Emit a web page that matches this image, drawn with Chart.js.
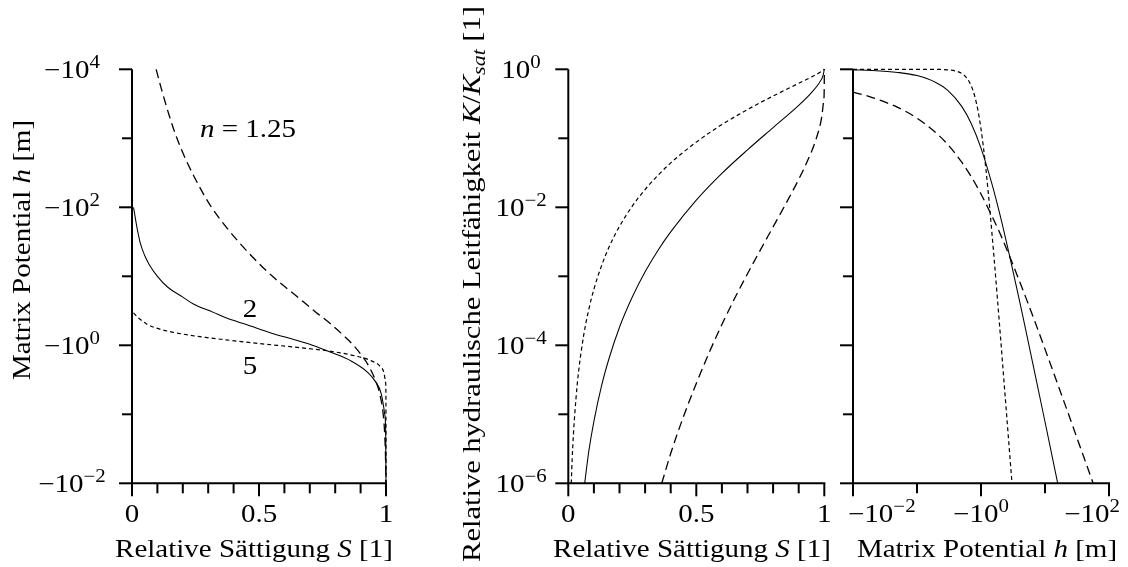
<!DOCTYPE html>
<html><head><meta charset="utf-8">
<script src="https://cdn.jsdelivr.net/npm/chart.js@4.4.1/dist/chart.umd.min.js"></script>
<style>
html,body{margin:0;padding:0;background:#fff;}
#wrap{position:relative;width:1128px;height:567px;overflow:hidden;background:#fff;}
canvas{position:absolute;left:0;top:0;}
</style></head><body>
<div id="wrap">
<canvas id="c1" width="1128" height="567"></canvas>
<canvas id="c2" width="1128" height="567"></canvas>
<canvas id="c3" width="1128" height="567"></canvas>
</div>
<script>
// ---------- data ----------
// Panel 1: relative saturation S vs |matrix potential h| [m]
const retentionS_n125 = [0.095,0.117,0.149,0.177,0.211,0.265,0.313,0.374,0.469,0.553,0.652,0.725,0.785,0.823,0.872,0.906,0.932,0.960,0.975,0.989,0.995,0.9985,0.9995];
const retentionH_n125 = [10000,5000,2000,1000,500,200,100,50,20,10,5,3,2,1.5,1,0.7,0.5,0.3,0.2,0.1,0.05,0.02,0.01];
const retentionS_n2 = [0.006,0.02,0.033,0.05,0.067,0.10,0.14,0.20,0.24,0.32,0.37,0.45,0.55,0.64,0.71,0.78,0.86,0.93,0.958,0.981,0.995,0.999,1.0];
const retentionH_n2 = [100,50,30,20,15,10,7,5,4,3,2.5,2,1.5,1.2,1,0.8,0.6,0.4,0.3,0.2,0.1,0.05,0.01];
const retentionS_n5 = [0.006,0.025,0.061,0.091,0.142,0.227,0.29,0.37,0.46,0.57,0.69,0.80,0.88,0.94,0.976,0.992,0.998,0.9997,1.0];
const retentionH_n5 = [2.95,2.5,2,1.8,1.6,1.4,1.3,1.2,1.1,1,0.9,0.8,0.7,0.6,0.5,0.4,0.3,0.2,0.01];

// Panel 2: relative conductivity K/Ksat vs S
const conductS_n125 = [0.365,0.40,0.45,0.50,0.55,0.60,0.65,0.70,0.75,0.80,0.85,0.90,0.94,0.97,0.99,0.998,0.9999,1.0];
const conductK_n125 = [1.0e-6,2.7e-6,9.3e-6,2.8e-5,7.8e-5,2.0e-4,4.8e-4,1.09e-3,2.4e-3,5.2e-3,0.0113,0.0254,0.0525,0.103,0.204,0.36,0.61,1];
const conductS_n2 = [0.064,0.08,0.10,0.13,0.16,0.20,0.25,0.30,0.35,0.40,0.50,0.60,0.70,0.80,0.90,0.95,0.98,0.995,1.0];
const conductK_n2 = [1.0e-6,2.9e-6,7.9e-6,2.6e-5,6.6e-5,1.83e-4,5.0e-4,1.16e-3,2.37e-3,4.4e-3,0.0127,0.031,0.068,0.143,0.30,0.46,0.635,0.81,1];
const conductS_n5 = [0.0116,0.015,0.02,0.03,0.04,0.06,0.08,0.10,0.13,0.16,0.20,0.25,0.30,0.35,0.40,0.50,0.60,0.70,0.80,0.90,0.95,0.99,1.0];
const conductK_n5 = [1.0e-6,2.2e-6,5.1e-6,1.7e-5,4.1e-5,1.39e-4,3.3e-4,6.5e-4,1.43e-3,2.7e-3,5.3e-3,0.0104,0.0181,0.029,0.044,0.088,0.158,0.261,0.41,0.626,0.775,0.936,1];

// Panel 3: relative conductivity K/Ksat vs |h| [m]
const potentialH_n125 = [0.01,0.02,0.05,0.1,0.2,0.3,0.5,0.7,1,1.5,2,3,5,7,10,20,30,40,56.5];
const potentialK_n125 = [0.468,0.390,0.280,0.196,0.119,0.082,0.045,0.028,0.0156,0.0073,0.0041,0.00166,4.95e-4,2.17e-4,8.8e-5,1.49e-5,5.2e-6,2.46e-6,1.0e-6];
const potentialH_n2 = [0.01,0.02,0.05,0.1,0.2,0.3,0.5,0.7,1,1.5,2,3,4,5,7,10,13,15.8];
const potentialK_n2 = [0.98,0.96,0.90,0.81,0.64,0.50,0.29,0.165,0.072,0.021,0.0075,0.00148,4.4e-4,1.67e-4,3.8e-5,7.8e-6,2.4e-6,1.0e-6];
const potentialH_n5 = [0.01,0.2,0.3,0.4,0.5,0.6,0.7,0.8,0.9,1.0,1.1,1.2,1.3,1.4,1.5,1.6,1.8,2.0,2.3,2.6,3.05];
const potentialK_n5 = [1.0,0.997,0.983,0.946,0.871,0.748,0.583,0.405,0.249,0.137,0.070,0.034,0.0162,0.0077,0.0037,0.00185,4.9e-4,1.46e-4,2.8e-5,6.6e-6,1.0e-6];

// tick values and labels
const satMajorTicks = [0, 0.5, 1];
const satMinorTicks = [0.1,0.2,0.3,0.4,0.6,0.7,0.8,0.9];
const satTickLabels = ["0", "0.5", "1"];
const headMajorTicks = [0.01, 1, 100, 10000];
const headMinorTicks = [0.1, 10, 1000];
const headTickExponents = ["\u22122", "0", "2", "4"];
const condMajorTicks = [1e-6, 1e-4, 1e-2, 1];
const condMinorTicks = [1e-5, 1e-3, 1e-1];
const condTickExponents = ["\u22126", "\u22124", "\u22122", "0"];
const headXMajorTicks = [0.01, 1, 100];
const headXMinorTicks = [0.1, 10];
const headXTickExponents = ["\u22122", "0", "2"];
const curveLabels = ["1.25", "2", "5"];

// ---------- helpers ----------
const SERIF = '"Liberation Serif","Times New Roman",serif';
const F = (sz, it) => (it ? 'italic ' : '') + sz + 'px ' + SERIF;
const FS = 25, FSUP = 18, SX = 1.16;

function pts(xs, ys) { return xs.map((v, i) => ({x: v, y: ys[i]})); }
function styleFor(n) {
  if (n === 0) return {borderDash: [9, 5], borderWidth: 1.3};
  if (n === 1) return {borderDash: [], borderWidth: 1.05};
  return {borderDash: [4, 3], borderWidth: 1.2};
}
function ds(data, n) {
  return Object.assign({data, borderColor: '#000', backgroundColor: '#000', pointRadius: 0,
    showLine: true, fill: false, cubicInterpolationMode: 'monotone', clip: false}, styleFor(n));
}
function drawRuns(ctx, runs, x, y, align, sxOverride) {
  const sxv = sxOverride || SX;
  let total = 0;
  runs.forEach(r => { ctx.font = r.f; r.w = ctx.measureText(r.t).width; total += r.w; });
  const tw = total * sxv;
  let sx = align === 'center' ? x - tw / 2 : (align === 'right' ? x - tw : x);
  ctx.save();
  ctx.translate(sx, y); ctx.scale(sxv, 1);
  ctx.textAlign = 'left'; ctx.textBaseline = 'alphabetic';
  let cx = 0;
  runs.forEach(r => { ctx.font = r.f; ctx.fillText(r.t, cx, (r.dy || 0)); cx += r.w; });
  ctx.restore();
}
function powRuns(prefix, exp) {
  return [{t: prefix + '10', f: F(FS)}, {t: exp, f: F(FSUP), dy: -10}];
}
function line(ctx, x1, y1, x2, y2) { ctx.beginPath(); ctx.moveTo(x1, y1); ctx.lineTo(x2, y2); ctx.stroke(); }

function drawAxes(chart, spec) {
  const ctx = chart.ctx, a = chart.chartArea, xs = chart.scales.x, ys = chart.scales.y;
  ctx.save();
  ctx.strokeStyle = '#000'; ctx.fillStyle = '#000'; ctx.lineWidth = 2;
  line(ctx, a.left, a.top, a.left, a.bottom + 1);
  line(ctx, a.left - 1, a.bottom, a.right + 1, a.bottom);
  spec.yMajor.forEach(v => { const p = ys.getPixelForValue(v); line(ctx, a.left - 13, p, a.left, p); });
  spec.yMinor.forEach(v => { const p = ys.getPixelForValue(v); line(ctx, a.left - 10, p, a.left, p); });
  spec.xMajor.forEach(v => { const p = xs.getPixelForValue(v); line(ctx, p, a.bottom, p, a.bottom + 13); });
  spec.xMinor.forEach(v => { const p = xs.getPixelForValue(v); line(ctx, p, a.bottom, p, a.bottom + 10); });
  if (spec.yLabels) spec.yMajor.forEach((v, i) => {
    const p = ys.getPixelForValue(v);
    drawRuns(ctx, spec.yLabels(i), spec.yLabelX, p + 9, 'center');
  });
  spec.xMajor.forEach((v, i) => {
    const p = xs.getPixelForValue(v);
    const al = spec.xAlign ? spec.xAlign[i] : 'center';
    const off = spec.xOff ? spec.xOff[i] : 0;
    drawRuns(ctx, spec.xLabels(i), p + off, 522, al);
  });
  drawRuns(ctx, spec.xTitle, spec.xTitleX, 557, 'center');
  if (spec.yTitle) {
    ctx.save(); ctx.translate(spec.yTitleX, spec.yTitleY); ctx.rotate(-Math.PI / 2);
    drawRuns(ctx, spec.yTitle, 0, 0, 'center', spec.yTitleSX); ctx.restore();
  }
  if (spec.extra) spec.extra(ctx);
  ctx.restore();
}

function makeChart(id, datasets, pad, xScale, yScale, spec) {
  return new Chart(document.getElementById(id), {
    type: 'scatter',
    data: {datasets},
    options: {
      responsive: false, animation: false, devicePixelRatio: 1,
      layout: {padding: pad},
      plugins: {legend: {display: false}, tooltip: {enabled: false}, title: {display: false}},
      scales: {x: Object.assign({display: false}, xScale), y: Object.assign({display: false}, yScale)}
    },
    plugins: [{id: 'axes' + id, afterDatasetsDraw: c => drawAxes(c, spec)}]
  });
}

const satTitle = [{t: 'Relative S\u00e4ttigung ', f: F(FS)}, {t: 'S', f: F(FS, true)}, {t: ' [1]', f: F(FS)}];
const headTitle = [{t: 'Matrix Potential ', f: F(FS)}, {t: 'h', f: F(FS, true)}, {t: ' [m]', f: F(FS)}];
const condTitle = [{t: 'Relative hydraulische Leitf\u00e4higkeit ', f: F(FS)}, {t: 'K', f: F(FS, true)},
  {t: '/', f: F(FS)}, {t: 'K', f: F(FS, true)}, {t: 'sat', f: F(FSUP, true), dy: 5}, {t: ' [1]', f: F(FS)}];

// Panel 1
makeChart('c1', [
  ds(pts(retentionS_n125, retentionH_n125), 0),
  ds(pts(retentionS_n2, retentionH_n2), 1),
  ds(pts(retentionS_n5, retentionH_n5), 2)
], {left: 132, top: 69.3, right: 1128 - 386, bottom: 567 - 483.3},
{type: 'linear', min: 0, max: 1}, {type: 'logarithmic', min: 0.01, max: 10000}, {
  yMajor: headMajorTicks, yMinor: headMinorTicks,
  yLabels: i => powRuns('\u2212', headTickExponents[i]), yLabelX: 72,
  xMajor: satMajorTicks, xMinor: satMinorTicks,
  xLabels: i => [{t: satTickLabels[i], f: F(FS)}],
  xTitle: satTitle, xTitleX: 254,
  yTitle: headTitle, yTitleX: 30, yTitleY: 250,
  extra: ctx => {
    drawRuns(ctx, [{t: 'n', f: F(FS, true)}, {t: ' = ' + curveLabels[0], f: F(FS)}], 248, 137, 'center');
    drawRuns(ctx, [{t: curveLabels[1], f: F(FS)}], 250, 317, 'center');
    drawRuns(ctx, [{t: curveLabels[2], f: F(FS)}], 250, 374, 'center');
  }
});

// Panel 2
makeChart('c2', [
  ds(pts(conductS_n125, conductK_n125), 0),
  ds(pts(conductS_n2, conductK_n2), 1),
  ds(pts(conductS_n5, conductK_n5), 2)
], {left: 568.3, top: 69.3, right: 1128 - 824.3, bottom: 567 - 483.3},
{type: 'linear', min: 0, max: 1}, {type: 'logarithmic', min: 1e-6, max: 1}, {
  yMajor: condMajorTicks, yMinor: condMinorTicks,
  yLabels: i => powRuns('', condTickExponents[i]), yLabelX: 521,
  xMajor: satMajorTicks, xMinor: satMinorTicks,
  xLabels: i => [{t: satTickLabels[i], f: F(FS)}],
  xTitle: satTitle, xTitleX: 692,
  yTitle: condTitle, yTitleX: 480, yTitleY: 284, yTitleSX: 1.22
});

// Panel 3
makeChart('c3', [
  ds(pts(potentialH_n125, potentialK_n125), 0),
  ds(pts(potentialH_n2, potentialK_n2), 1),
  ds(pts(potentialH_n5, potentialK_n5), 2)
], {left: 853, top: 69.3, right: 1128 - 1109, bottom: 567 - 483.3},
{type: 'logarithmic', min: 0.01, max: 100}, {type: 'logarithmic', min: 1e-6, max: 1}, {
  yMajor: condMajorTicks, yMinor: condMinorTicks,
  xMajor: headXMajorTicks, xMinor: headXMinorTicks,
  xLabels: i => powRuns('\u2212', headXTickExponents[i]),
  xAlign: ['left', 'center', 'right'], xOff: [-5, 0, 11],
  xTitle: headTitle, xTitleX: 987
});
</script>
</body></html>
